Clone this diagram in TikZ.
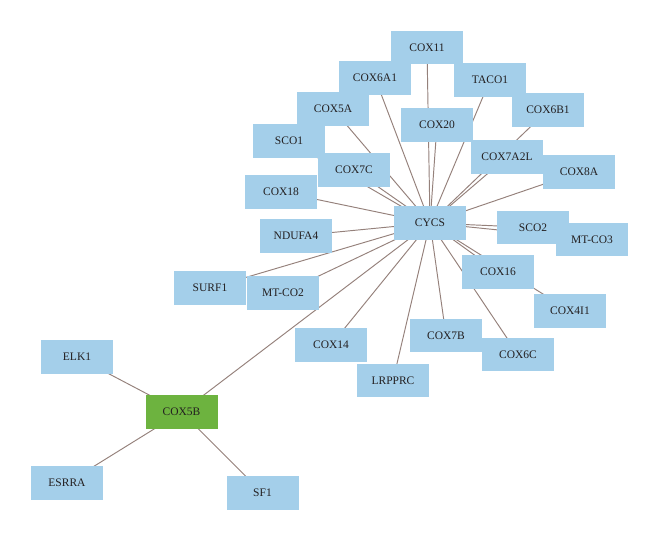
\documentclass[tikz,border=0pt]{standalone}
\usepackage{fontspec}
\setmainfont{Liberation Serif}
\usetikzlibrary{backgrounds}
\definecolor{Canvas}{HTML}{FFFFFF}
\definecolor{GeneBlue}{HTML}{A4CFEA}
\definecolor{SeedGreen}{HTML}{6DB33F}
\definecolor{LinkBrown}{HTML}{95817B}
\definecolor{TextDark}{HTML}{231F20}
\begin{document}
\begin{tikzpicture}[x=1pt,y=-1pt,every node/.style={font=\fontsize{11.5}{13}\selectfont,text=TextDark},gene/.style={rectangle,fill=GeneBlue,minimum width=72pt,minimum height=33.5pt,inner sep=0pt},seed/.style={gene,fill=SeedGreen},link/.style={draw=LinkBrown,line width=0.95pt}]
\useasboundingbox (0,0) rectangle (660,541);
% partners of CYCS
\node[gene] (cox11) at (427,47.5){COX11};
\node[gene] (cox6a1) at (375,78){COX6A1};
\node[gene] (taco1) at (490,80){TACO1};
\node[gene] (cox5a) at (333,109){COX5A};
\node[gene] (cox6b1) at (548,110){COX6B1};
\node[gene] (cox20) at (437,125){COX20};
\node[gene] (sco1) at (289,141){SCO1};
\node[gene] (cox7a2l) at (507,157){COX7A2L};
\node[gene] (cox7c) at (354,170){COX7C};
\node[gene] (cox8a) at (579,172){COX8A};
\node[gene] (cox18) at (281,192){COX18};
\node[gene] (cycs) at (430,223){CYCS};
\node[gene] (ndufa4) at (296,236){NDUFA4};
\node[gene] (sco2) at (533,227.5){SCO2};
\node[gene] (mtco3) at (592,239.5){MT-CO3};
\node[gene] (surf1) at (210,288){SURF1};
\node[gene] (mtco2) at (283,293){MT-CO2};
\node[gene] (cox16) at (498,272){COX16};
\node[gene] (cox4i1) at (570,311){COX4I1};
\node[gene] (cox14) at (331,345){COX14};
\node[gene] (cox7b) at (446,335.5){COX7B};
\node[gene] (cox6c) at (518,354.5){COX6C};
\node[gene] (lrpprc) at (393,380.5){LRPPRC};
% COX5B and its partners
\node[gene] (elk1) at (77,357){ELK1};
\node[seed] (cox5b) at (181.5,412){COX5B};
\node[gene] (esrra) at (67,483){ESRRA};
\node[gene] (sf1) at (262.5,493){SF1};
\begin{scope}[on background layer]
\fill[Canvas] (0,0) rectangle (660,541);
\foreach \g in {cox11,cox6a1,taco1,cox5a,cox6b1,cox20,sco1,cox7a2l,cox7c,cox8a,cox18,ndufa4,sco2,mtco3,surf1,mtco2,cox16,cox4i1,cox14,cox7b,cox6c,lrpprc,cox5b}{\draw[link] (cycs.center)--(\g.center);}
\foreach \g in {elk1,esrra,sf1}{\draw[link] (cox5b.center)--(\g.center);}
\end{scope}
\end{tikzpicture}
\end{document}
